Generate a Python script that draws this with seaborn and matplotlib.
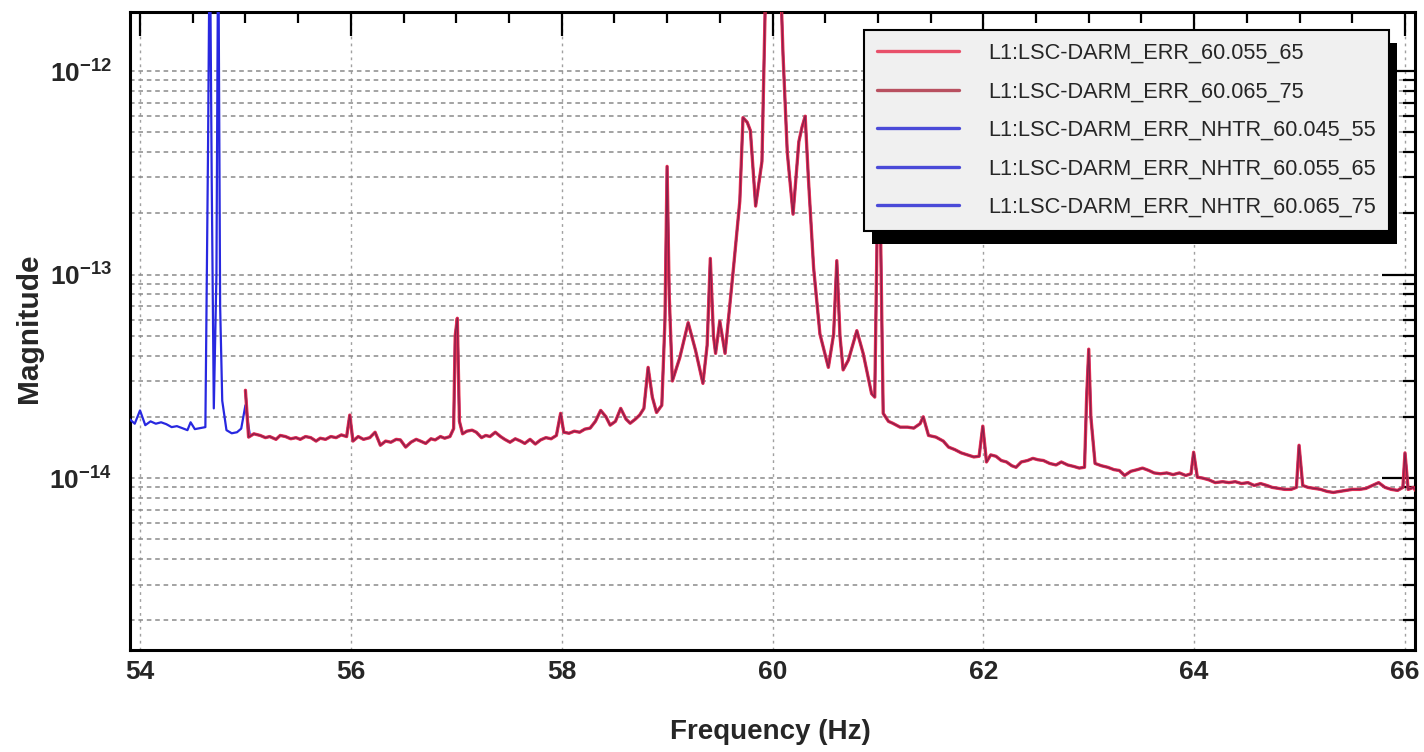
import numpy as np
import pandas as pd
import seaborn as sns
import matplotlib
matplotlib.use("Agg")
import matplotlib.pyplot as plt
from matplotlib import ticker
from matplotlib.patches import Rectangle
from matplotlib.transforms import IdentityTransform

# ---------------- data ----------------
# Low-frequency segment seen only in the NHTR 60.045_55 trace (blue)
freq_low = [53.90, 53.95, 54.00, 54.05, 54.10, 54.15, 54.20, 54.25, 54.30, 54.35,
            54.40, 54.45, 54.48, 54.52, 54.57, 54.62, 54.645, 54.662, 54.68, 54.70,
            54.725, 54.742, 54.76, 54.78, 54.82, 54.87, 54.92, 54.96, 55.00, 55.04]
mag_low_e14 = [1.95, 1.85, 2.15, 1.82, 1.90, 1.85, 1.88, 1.84, 1.78, 1.80,
               1.76, 1.72, 1.88, 1.74, 1.76, 1.78, 40.0, 600.0, 30.0, 2.2,
               10.0, 600.0, 7.0, 2.4, 1.72, 1.66, 1.68, 1.75, 2.28, 1.65]

# Main segment 55-66 Hz (all traces overlap here)
freq_main = [55.00, 55.03, 55.08, 55.14, 55.19, 55.23, 55.29, 55.33, 55.38, 55.43,
             55.48, 55.52, 55.57, 55.62, 55.67, 55.71, 55.76, 55.81, 55.86, 55.91,
             55.96, 55.99, 56.02, 56.07, 56.12, 56.18, 56.23, 56.28, 56.33, 56.38,
             56.43, 56.47, 56.52, 56.57, 56.62, 56.66, 56.71, 56.76, 56.80, 56.85,
             56.89, 56.94, 56.975, 56.99, 57.01, 57.03, 57.06, 57.10, 57.15, 57.19,
             57.24, 57.28, 57.32, 57.37, 57.42, 57.46, 57.51, 57.56, 57.61, 57.65,
             57.70, 57.75, 57.80, 57.85, 57.90, 57.95, 57.99, 58.02, 58.07, 58.12,
             58.17, 58.22, 58.27, 58.32, 58.37, 58.42, 58.46, 58.51, 58.56, 58.61,
             58.65, 58.70, 58.74, 58.78, 58.82, 58.86, 58.90, 58.95, 58.98, 59.00,
             59.02, 59.05, 59.12, 59.20, 59.27, 59.34, 59.38, 59.41, 59.44, 59.46,
             59.50, 59.55, 59.63, 59.69, 59.72, 59.76, 59.79, 59.84, 59.90, 59.93,
             59.96, 60.00, 60.04, 60.08, 60.10, 60.14, 60.195, 60.25, 60.28, 60.31,
             60.34, 60.39, 60.45, 60.53, 60.58, 60.61, 60.64, 60.67, 60.72, 60.80,
             60.86, 60.94, 60.97, 61.00, 61.02, 61.05, 61.10, 61.14, 61.21, 61.28,
             61.34, 61.40, 61.43, 61.48, 61.55, 61.62, 61.67, 61.73, 61.79, 61.85,
             61.91, 61.96, 61.995, 62.03, 62.07, 62.12, 62.17, 62.22, 62.27, 62.31,
             62.36, 62.42, 62.47, 62.52, 62.57, 62.63, 62.69, 62.74, 62.80, 62.86,
             62.91, 62.96, 62.98, 63.00, 63.02, 63.06, 63.12, 63.18, 63.24, 63.29,
             63.34, 63.40, 63.46, 63.51, 63.57, 63.62, 63.68, 63.74, 63.80, 63.86,
             63.92, 63.97, 63.995, 64.03, 64.08, 64.14, 64.20, 64.27, 64.33, 64.39,
             64.45, 64.51, 64.57, 64.63, 64.69, 64.74, 64.80, 64.86, 64.92, 64.97,
             64.995, 65.03, 65.08, 65.14, 65.20, 65.26, 65.32, 65.38, 65.44, 65.50,
             65.57, 65.63, 65.69, 65.75, 65.81, 65.87, 65.93, 65.98, 66.00, 66.03,
             66.08, 66.10]
mag_main_e14 = [2.70, 1.59, 1.65, 1.62, 1.58, 1.60, 1.55, 1.62, 1.60, 1.56,
                1.58, 1.55, 1.60, 1.58, 1.52, 1.57, 1.55, 1.60, 1.58, 1.63,
                1.60, 2.04, 1.52, 1.60, 1.55, 1.58, 1.68, 1.45, 1.52, 1.50,
                1.55, 1.54, 1.42, 1.50, 1.55, 1.52, 1.48, 1.56, 1.54, 1.60,
                1.57, 1.60, 1.75, 5.00, 6.10, 1.90, 1.65, 1.70, 1.72, 1.68,
                1.58, 1.62, 1.60, 1.68, 1.60, 1.55, 1.50, 1.56, 1.52, 1.48,
                1.55, 1.47, 1.54, 1.58, 1.56, 1.62, 2.08, 1.68, 1.66, 1.70,
                1.68, 1.74, 1.76, 1.90, 2.15, 2.00, 1.82, 1.90, 2.20, 1.95,
                1.86, 1.95, 2.04, 2.20, 3.50, 2.50, 2.10, 2.28, 6.00, 34.0,
                8.00, 3.00, 3.90, 5.80, 4.24, 2.92, 4.50, 12.0, 5.00, 4.10,
                5.90, 4.10, 10.8, 23.0, 59.0, 56.0, 51.0, 21.7, 36.0, 200.0,
                1000.0, 3000.0, 1000.0, 250.0, 120.0, 40.0, 19.8, 45.0, 53.0, 60.0,
                30.0, 10.8, 5.10, 3.50, 5.10, 11.7, 5.00, 3.40, 3.80, 5.30,
                4.10, 2.60, 2.50, 30.0, 25.0, 2.08, 1.90, 1.86, 1.78, 1.78,
                1.76, 1.85, 2.00, 1.62, 1.59, 1.52, 1.42, 1.38, 1.33, 1.30,
                1.27, 1.28, 1.80, 1.20, 1.30, 1.28, 1.22, 1.20, 1.15, 1.13,
                1.20, 1.22, 1.25, 1.23, 1.22, 1.18, 1.16, 1.20, 1.16, 1.14,
                1.12, 1.13, 2.50, 4.30, 2.00, 1.18, 1.15, 1.13, 1.10, 1.09,
                1.03, 1.08, 1.10, 1.12, 1.09, 1.06, 1.05, 1.06, 1.04, 1.06,
                1.03, 1.05, 1.34, 1.01, 1.00, 0.98, 0.95, 0.96, 0.95, 0.96,
                0.94, 0.95, 0.92, 0.94, 0.92, 0.90, 0.89, 0.88, 0.88, 0.90,
                1.45, 0.92, 0.90, 0.89, 0.88, 0.86, 0.85, 0.86, 0.87, 0.88,
                0.88, 0.89, 0.92, 0.95, 0.90, 0.88, 0.87, 0.90, 1.33, 0.88,
                0.90, 0.87]

series_labels = ["L1:LSC-DARM_ERR_60.055_65", "L1:LSC-DARM_ERR_60.065_75",
                 "L1:LSC-DARM_ERR_NHTR_60.045_55", "L1:LSC-DARM_ERR_NHTR_60.055_65",
                 "L1:LSC-DARM_ERR_NHTR_60.065_75"]
xticks = [54, 56, 58, 60, 62, 64, 66]
yticks = [1e-14, 1e-13, 1e-12]
ytick_labels = [r"$\mathbf{10^{-14}}$", r"$\mathbf{10^{-13}}$", r"$\mathbf{10^{-12}}$"]

# ---------------- style ----------------
sns.set_theme(style="white")
plt.rcParams["font.family"] = ["Liberation Sans", "DejaVu Sans"]
plt.rcParams["mathtext.fontset"] = "custom"
plt.rcParams["mathtext.rm"] = "Liberation Sans:bold"
plt.rcParams["mathtext.bf"] = "Liberation Sans:bold"
plt.rcParams["mathtext.it"] = "Liberation Sans:bold"
plt.rcParams["mathtext.sf"] = "Liberation Sans:bold"

fig = plt.figure(figsize=(14.24, 7.52), dpi=100)
ax = fig.add_axes([130 / 1424, 102 / 752, 1285 / 1424, 638 / 752])

f_low = np.array(freq_low)
m_low = np.array(mag_low_e14) * 1e-14
f_main = np.array(freq_main)
m_main = np.array(mag_main_e14) * 1e-14

red1, red2, blue = "#f02a46", "#7a1f48", "#2828e0"

# draw order controlled by zorder, legend order by call order
sns.lineplot(x=f_main, y=m_main, ax=ax, color=red1, lw=2.4, alpha=0.9,
             label=series_labels[0], zorder=5, estimator=None, sort=False)
sns.lineplot(x=f_main, y=m_main, ax=ax, color=red2, lw=0.9, alpha=0.85,
             label=series_labels[1], zorder=6, estimator=None, sort=False)
sns.lineplot(x=f_low, y=m_low, ax=ax, color=blue, lw=1.6,
             label=series_labels[2], zorder=3, estimator=None, sort=False)
sns.lineplot(x=f_main, y=m_main, ax=ax, color=blue, lw=1.6,
             label=series_labels[3], zorder=2, estimator=None, sort=False)
sns.lineplot(x=f_main, y=m_main, ax=ax, color=blue, lw=1.6,
             label=series_labels[4], zorder=2, estimator=None, sort=False)

ax.set_yscale("log")
ax.set_xlim(53.905, 66.095)
ax.set_ylim(1.43e-15, 1.95e-12)

ax.xaxis.set_major_locator(ticker.FixedLocator(xticks))
ax.xaxis.set_minor_locator(ticker.MultipleLocator(0.5))
ax.xaxis.set_major_formatter(ticker.FuncFormatter(lambda v, p: "%d" % v))
ax.set_yticks(yticks)
ax.set_yticklabels(ytick_labels)
ax.yaxis.set_minor_locator(ticker.FixedLocator(
    [m * 10.0 ** e for e in (-15, -14, -13, -12) for m in range(2, 10)
     if 1.43e-15 <= m * 10.0 ** e <= 1.95e-12]))
ax.yaxis.set_minor_formatter(ticker.NullFormatter())

ax.tick_params(axis="both", which="both", direction="in", top=True, right=True,
               color="black", width=1.6)
ax.tick_params(axis="x", which="major", length=17, labelsize=19, pad=7)
ax.tick_params(axis="x", which="minor", length=8)
ax.tick_params(axis="y", which="major", length=24, labelsize=19, pad=13)
ax.tick_params(axis="y", which="minor", length=9)
for lab in ax.get_xticklabels():
    lab.set_fontweight("bold")

ax.yaxis.grid(True, which="both", linestyle=(0, (3, 2.5)), color="#8a8a8a", lw=1.1)
ax.xaxis.grid(True, which="major", linestyle=(0, (2, 3)), color="#a0a0a0", lw=1.0)
ax.set_axisbelow(True)
for s in ax.spines.values():
    s.set_color("black")
    s.set_linewidth(2.2)

ax.set_xlabel("Frequency (Hz)", fontsize=20, fontweight="bold")
ax.set_ylabel("Magnitude", fontsize=21.5, fontweight="bold")
ax.xaxis.set_label_coords(0.498, -0.108)
ax.yaxis.set_label_coords(-0.068, 0.505)

leg = ax.legend(loc="upper right", bbox_to_anchor=(0.9795, 0.972), borderaxespad=0,
                frameon=True, fancybox=False, fontsize=15.7, handlelength=3.8,
                handletextpad=1.3, labelspacing=0.8, borderpad=0.6,
                framealpha=1)
leg.get_frame().set_facecolor("#f0f0f0")
leg.get_frame().set_edgecolor("black")
leg.get_frame().set_linewidth(1.5)
leg.set_zorder(10)
leg_colors = ["#e8506a", "#b85060", "#4a4ad8", "#4a4ad8", "#4a4ad8"]
for line, c in zip(leg.get_lines(), leg_colors):
    line.set_linewidth(2.4)
    line.set_alpha(1)
    line.set_color(c)

fig.canvas.draw()
bb = leg.get_window_extent()
shadow = Rectangle((bb.x0 + 8, bb.y0 - 13), bb.width, bb.height,
                   transform=IdentityTransform(), facecolor="black",
                   edgecolor="none", zorder=9, clip_on=False)
ax.add_artist(shadow)

fig.savefig("out.png", dpi=100)
